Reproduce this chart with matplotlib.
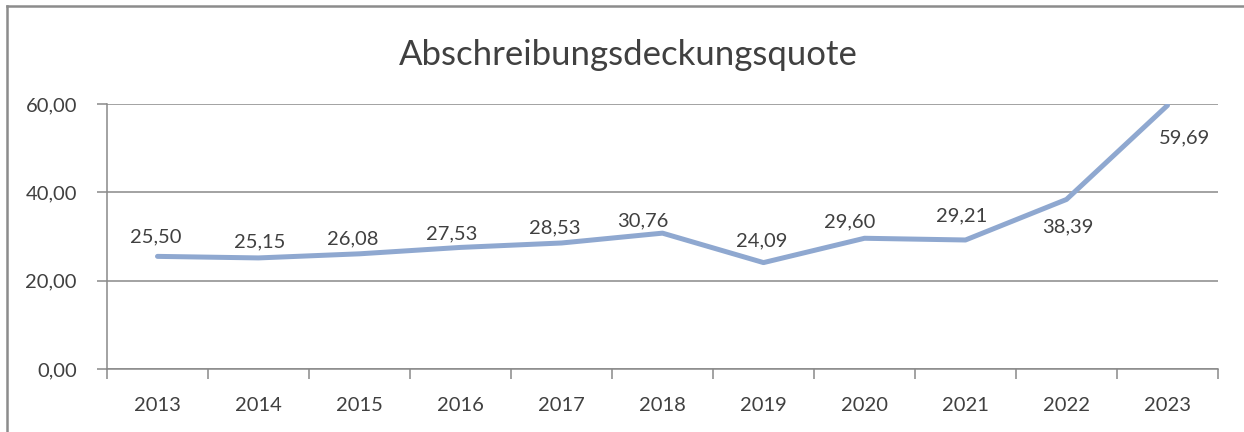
import matplotlib.pyplot as plt
from matplotlib.lines import Line2D

years = ['2013', '2014', '2015', '2016', '2017', '2018', '2019', '2020', '2021', '2022', '2023']
quote = [25.50, 25.15, 26.08, 27.53, 28.53, 30.76, 24.09, 29.60, 29.21, 38.39, 59.69]
y_ticks = [0, 20, 40, 60]

# label baseline offsets (pixels) relative to each point, as placed in the original
label_dx = [-2, 1, -7, -9, -7, -20, -2, -15, -4, 1, 17]
label_dy = [14, 11, 9, 8, 10, 7, 16, 11, 19, -33, -38]

TEXT = '#404040'
GRID = '#898989'
LINE = '#8FA8D0'

plt.rcParams['font.family'] = ['Lato', 'DejaVu Sans']

W, H = 1244, 432
fig = plt.figure(figsize=(W / 100, H / 100), dpi=100)
ax = fig.add_axes([107 / W, 1 - 369 / H, (1218 - 107) / W, (369 - 104) / H])

x = list(range(len(years)))
ax.plot(x, quote, color=LINE, linewidth=3.6, solid_capstyle='round', solid_joinstyle='round', zorder=3)

for i, v in enumerate(quote):
    ax.annotate(f'{v:.2f}'.replace('.', ','), (i, v), xytext=(label_dx[i] * 0.72, label_dy[i] * 0.72),
                textcoords='offset points', ha='center', va='baseline', fontsize=14.5, color=TEXT, zorder=4)

ax.set_xlim(-0.5, len(years) - 0.5)
ax.set_ylim(0, 60)
ax.set_yticks(y_ticks)
ax.set_yticklabels([f'{t:.2f}'.replace('.', ',') for t in y_ticks])
ax.set_xticks(x)
ax.set_xticklabels(years)
ax.set_xticks([i + 0.5 for i in range(-1, len(years))], minor=True)

ax.grid(axis='y', color=GRID, linewidth=1.1, zorder=1)
for s in ['top', 'right']:
    ax.spines[s].set_visible(False)
for s in ['left', 'bottom']:
    ax.spines[s].set_color(GRID)
    ax.spines[s].set_linewidth(1.1)

ax.tick_params(axis='y', length=7, width=1.1, color=GRID, labelsize=14.5, labelcolor=TEXT, pad=14.6)
ax.tick_params(axis='x', which='major', length=0, labelsize=14.5, labelcolor=TEXT, pad=20.5)
ax.tick_params(axis='x', which='minor', length=7, width=1.1, color=GRID)
ax.set_facecolor('white')

fig.text(628.5 / W, 1 - 65 / H, 'Abschreibungsdeckungsquote', ha='center', va='baseline', fontsize=25, color=TEXT)

# chart frame (only top and left edges are visible in the crop)
fig.add_artist(Line2D([7 / W, 7 / W], [0, 1 - 6 / H], transform=fig.transFigure, color='#8C8C8C', linewidth=1.8))
fig.add_artist(Line2D([7 / W, 1], [1 - 6 / H, 1 - 6 / H], transform=fig.transFigure, color='#8C8C8C', linewidth=1.8))

fig.savefig('out.png', dpi=100, facecolor='white')
